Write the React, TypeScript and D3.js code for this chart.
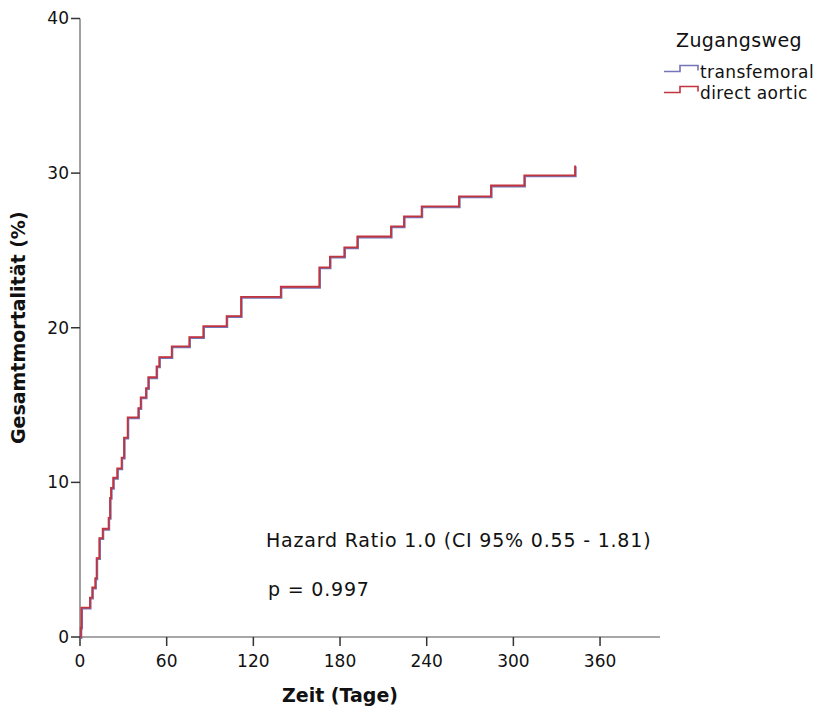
import React from "react";
import * as d3 from "d3";

const width = 816;
const height = 706;
const margin = { top: 18.5, right: 156, bottom: 69, left: 80 };

// Kaplan-Meier style cumulative mortality
const days = [0, 0.5, 1, 6.9, 8.5, 10.6, 11.5, 13.4, 15.7, 19.8, 20.8, 21.5, 23, 25.8, 28.8, 30.5, 33, 40.4, 42, 45.7, 47.3, 53, 54.9, 63.5, 75.7, 85.4, 101.5, 111.5, 139, 165.7, 173, 183, 192, 215.3, 224.3, 236.5, 262.4, 284.5, 307.6, 342.7];
const directAortic = [0, 0.6, 1.9, 2.55, 3.2, 3.8, 5.1, 6.4, 7.0, 7.7, 9.0, 9.65, 10.3, 10.9, 11.6, 12.9, 14.2, 14.8, 15.5, 16.1, 16.8, 17.5, 18.1, 18.8, 19.4, 20.1, 20.75, 22.0, 22.65, 23.9, 24.6, 25.2, 25.9, 26.55, 27.2, 27.85, 28.5, 29.2, 29.85, 30.5];
const transfemoral = [0, 0.6, 1.9, 2.55, 3.2, 3.8, 5.1, 6.4, 7.0, 7.7, 9.0, 9.65, 10.3, 10.9, 11.6, 12.9, 14.2, 14.8, 15.5, 16.1, 16.8, 17.5, 18.1, 18.8, 19.4, 20.1, 20.75, 22.0, 22.65, 23.9, 24.6, 25.2, 25.9, 26.55, 27.2, 27.85, 28.5, 29.2, 29.85, 30.5];

const xTicks = [0, 60, 120, 180, 240, 300, 360];
const yTicks = [0, 10, 20, 30, 40];
const groups = ["transfemoral", "direct aortic"];
const colors = ["#7474b6", "#c2343e"];

const font = "'DejaVu Sans', sans-serif";

export default function App() {
  const x = d3.scaleLinear().domain([0, 401.5]).range([margin.left, width - margin.right]);
  const y = d3.scaleLinear().domain([0, 40]).range([height - margin.bottom, margin.top]);

  const line = d3
    .line<number>()
    .x((_, i) => x(days[i]))
    .y((d) => y(d))
    .curve(d3.curveStepAfter);

  const x0 = x(0);
  const y0 = y(0);

  return (
    <svg width={width} height={height} style={{ position: "absolute", left: 0, top: 0 }} fontFamily={font}>
      <rect width={width} height={height} fill="#fff" />

      {/* axes */}
      <line x1={x0} x2={x.range()[1]} y1={y0} y2={y0} stroke="#8a8a8a" strokeWidth={1.6} />
      <line x1={x0} x2={x0} y1={y0} y2={y(40)} stroke="#8a8a8a" strokeWidth={1.6} />

      {yTicks.map((t) => (
        <g key={"y" + t}>
          <line x1={x0 - 9} x2={x0} y1={y(t)} y2={y(t)} stroke="#333" strokeWidth={1.5} />
          <text x={x0 - 11} y={y(t)} dy="0.35em" textAnchor="end" fontSize={17} fill="#111">
            {t}
          </text>
        </g>
      ))}
      {xTicks.map((t) => (
        <g key={"x" + t}>
          <line x1={x(t)} x2={x(t)} y1={y0} y2={y0 + 9} stroke="#333" strokeWidth={1.5} />
          <text x={x(t)} y={y0 + 30} textAnchor="middle" fontSize={17} fill="#111">
            {t}
          </text>
        </g>
      ))}

      <text x={x(180)} y={702} textAnchor="middle" fontSize={19} fontWeight="bold" fill="#111">
        Zeit (Tage)
      </text>
      <text
        transform={`translate(25,${(y(0) + y(40)) / 2}) rotate(-90)`}
        textAnchor="middle"
        fontSize={19}
        fontWeight="bold"
        fill="#111"
      >
        Gesamtmortalität (%)
      </text>

      {/* curves */}
      <path d={line(transfemoral) || ""} fill="none" stroke={colors[0]} strokeWidth={2.2} transform="translate(0.5,0.8)" />
      <path d={line(directAortic) || ""} fill="none" stroke={colors[1]} strokeWidth={1.8} />

      {/* annotations */}
      <text x={266} y={547} fontSize={19} letterSpacing={0.8} fill="#111">
        Hazard Ratio 1.0 (CI 95% 0.55 - 1.81)
      </text>
      <text x={268} y={596} fontSize={19} letterSpacing={0.8} fill="#111">
        p = 0.997
      </text>

      {/* legend */}
      <text x={676} y={47} fontSize={19} letterSpacing={0.4} fill="#111">
        Zugangsweg
      </text>
      {groups.map((g, i) => {
        const ly = 71.5 + i * 21;
        return (
          <g key={g}>
            <path
              d={`M664,${ly}H680V${ly - 6}H698V${ly - 1}`}
              fill="none"
              stroke={colors[i]}
              strokeWidth={1.6}
            />
            <text x={700} y={ly + 6} fontSize={17} letterSpacing={0.4} fill="#111">
              {g}
            </text>
          </g>
        );
      })}
    </svg>
  );
}
